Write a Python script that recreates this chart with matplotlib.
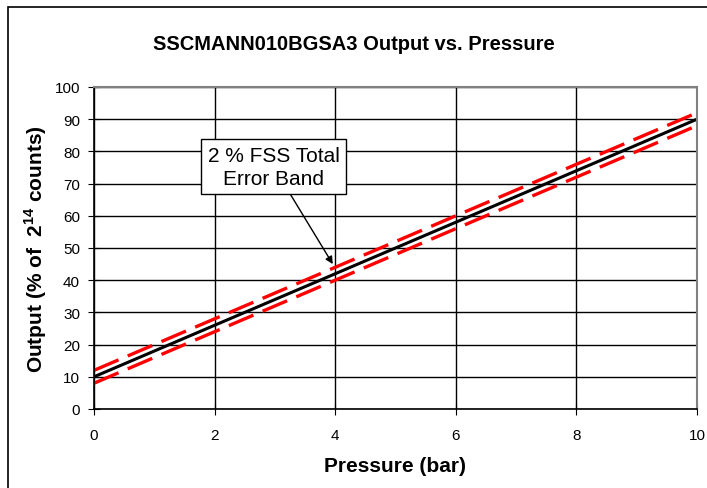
import matplotlib
matplotlib.use("Agg")
import matplotlib.pyplot as plt
from matplotlib.patches import Rectangle

plt.rcParams['font.family'] = ['Liberation Sans', 'DejaVu Sans']

# data
pressure = [0, 10]
output = [10, 90]
upper = [12, 92]
lower = [8, 88]
x_ticks = [0, 2, 4, 6, 8, 10]
y_ticks = [0, 10, 20, 30, 40, 50, 60, 70, 80, 90, 100]

fig = plt.figure(figsize=(7.07, 4.89), dpi=100)
ax = fig.add_axes([94 / 707, 1 - 410 / 489, 603 / 707, 322 / 489])

# outer chart border
fig.patches.append(Rectangle((8 / 707, -0.05), 1.2, 1 - 8 / 489 + 0.05,
                             transform=fig.transFigure, fill=False,
                             edgecolor='black', linewidth=1.2))

ax.plot(pressure, upper, color='red', linestyle=(0, (8, 3)), linewidth=2.4)
ax.plot(pressure, lower, color='red', linestyle=(0, (8, 3)), linewidth=2.4)
ax.plot(pressure, output, color='black', linewidth=2.2)

ax.set_xlim(0, 10)
ax.set_ylim(0, 100)
ax.set_xticks(x_ticks)
ax.set_yticks(y_ticks)
ax.grid(True, color='black', linewidth=1)
ax.set_axisbelow(True)
ax.tick_params(labelsize=11, length=8, direction='inout', color='black')
ax.tick_params(axis='x', pad=10)
ax.tick_params(axis='y', pad=6)

for side in ['top', 'right']:
    ax.spines[side].set_color('gray')
    ax.spines[side].set_linewidth(1.5)
for side in ['left', 'bottom']:
    ax.spines[side].set_color('black')
    ax.spines[side].set_linewidth(1.2)

ax.set_xlabel('Pressure (bar)', fontsize=15, fontweight='bold', labelpad=10)
ax.set_ylabel('Output (% of  2$^{\\mathregular{14}}$ counts)', fontsize=15,
              fontweight='bold', labelpad=4)
fig.text(0.5, 1 - 45 / 489, 'SSCMANN010BGSA3 Output vs. Pressure',
         ha='center', va='center', fontsize=14.5, fontweight='bold')

ax.annotate('2 % FSS Total\nError Band', xy=(3.96, 45), xytext=(2.98, 75.2),
            ha='center', va='center', fontsize=15, linespacing=1.25,
            bbox=dict(boxstyle='square,pad=0.32', facecolor='white',
                      edgecolor='black', linewidth=1),
            arrowprops=dict(arrowstyle='-|>', color='black', linewidth=1,
                            mutation_scale=11, shrinkA=0, shrinkB=0))

fig.savefig('out.png', dpi=100)
